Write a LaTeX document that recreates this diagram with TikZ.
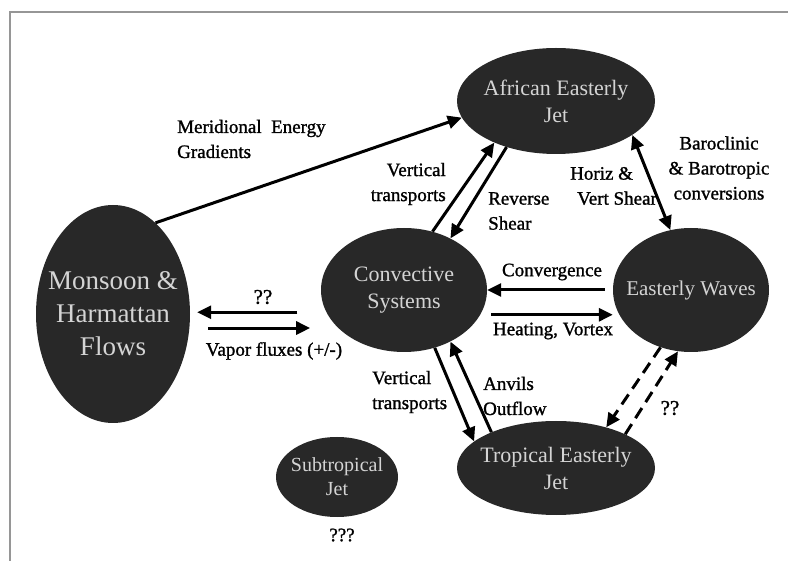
\documentclass[tikz,border=0pt]{standalone}
\usepackage{fontspec}
\setmainfont{Liberation Serif}
\newfontfamily\heavyfont[FakeBold=1.2]{Liberation Serif}
\usetikzlibrary{shapes.geometric,arrows.meta,calc}
\definecolor{blobfill}{RGB}{40,40,40}
\definecolor{blobtext}{RGB}{212,212,212}
\definecolor{framegray}{RGB}{150,150,150}
\begin{document}
\begin{tikzpicture}[x=1pt,y=-1pt,
  blob/.style={ellipse, fill=blobfill, draw=none, inner sep=0pt},
  blobtxt/.style={text=blobtext, align=center, inner sep=0pt, font=\fontsize{22}{27}\selectfont},
  lbl/.style={text=black, inner sep=0pt, font=\heavyfont\fontsize{19}{25}\selectfont},
  tip/.style={-{Triangle[length=14pt,width=13pt]}},
  arr/.style={line width=3pt, tip},
  dblarr/.style={line width=3pt, {Triangle[length=14pt,width=13pt]}-{Triangle[length=14pt,width=13pt]}},
  dasharr/.style={arr, dash pattern=on 12pt off 7pt}]
\useasboundingbox (0,0) rectangle (788,561);
\draw[framegray, line width=2pt] (10,561) -- (10,12) -- (788,12);

% ellipses
\node[blob, minimum width=154pt, minimum height=218pt,
  label={[blobtxt, font=\fontsize{27}{33}\selectfont]center:{Monsoon \&\\Harmattan\\Flows}}] (mon) at (113,314) {};
\node[blob, minimum width=198pt, minimum height=106pt,
  label={[blobtxt]center:{African Easterly\\Jet}}] (aej) at (556,101) {};
\node[blob, minimum width=166pt, minimum height=124pt,
  label={[blobtxt]center:{Convective\\Systems}}] (conv) at (404,290) {};
\node[blob, minimum width=156pt, minimum height=124pt,
  label={[blobtxt, font=\fontsize{21}{26}\selectfont]center:{Easterly Waves}}] (ew) at (691,290) {};
\node[blob, minimum width=198pt, minimum height=94pt,
  label={[blobtxt]center:{Tropical Easterly\\Jet}}] (tej) at (556,468) {};
\node[blob, minimum width=122pt, minimum height=80pt,
  label={[blobtxt, font=\fontsize{20}{24}\selectfont]center:{Subtropical\\Jet}}] (sub) at (337,477) {};

% labels
\node[lbl, align=left, anchor=west] (meri) at (177,139) {Meridional\ \ Energy\\Gradients};
\node[lbl, align=right, anchor=east] (vt1) at (446,184) {Vertical\\transports};
\node[lbl, align=left, anchor=west] (rev) at (488,211) {Reverse\\Shear};
\node[lbl, align=left, anchor=west] (hv) at (570,186) {Horiz \&\\\hspace*{7pt}Vert Shear};
\node[lbl, align=center] (baro) at (719,168) {Baroclinic\\\& Barotropic\\conversions};
\node[lbl] (convg) at (552,272) {Convergence};
\node[lbl] (heat) at (553,331) {Heating, Vortex};
\node[lbl, font=\heavyfont\fontsize{21}{25}\selectfont] (q1) at (263,297) {??};
\node[lbl] (vap) at (274,351) {Vapor fluxes (+/-)};
\node[lbl, align=left, anchor=west] (vt2) at (372,392) {Vertical\\transports};
\node[lbl, align=left, anchor=west] (anv) at (483,396) {Anvils\\Outflow};
\node[lbl, font=\heavyfont\fontsize{21}{25}\selectfont] (q2) at (670,408) {??};
\node[lbl] (q3) at (342,535) {???};

% connectors
\draw[arr] (mon.65.5) -- (aej.190);
\draw[arr] (conv.64) -- (aej.214);
\draw[arr] (aej.223) -- (conv.48);
\draw[dblarr] (aej.336.6) -- (ew.109.3);
\draw[arr, shorten <=8pt] (ew.west) -- (conv.east);
\draw[arr, shorten <=11pt] (conv.342.6) -- (conv.342.6 -| ew.west);
\draw[arr, shorten <=29pt, shorten >=7pt] (conv.196.6) -- (conv.196.6 -| mon.east);
\draw[arr, shorten <=18pt, shorten >=28pt] (conv.210.1 -| mon.east) -- (conv.210.1);
\draw[arr] (conv.298.5) -- (tej.162.4);
\draw[arr] (tej.151.4) -- (conv.312.8);
\draw[dasharr] (ew.242.7) -- (tej.39.8);
\draw[dasharr] (tej.26.9) -- (ew.258.7);
\end{tikzpicture}
\end{document}
